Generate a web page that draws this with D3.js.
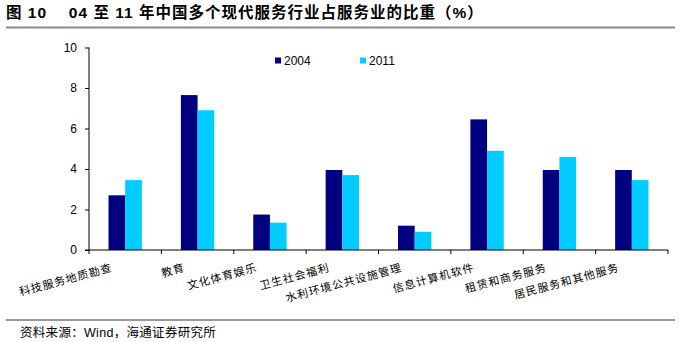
<!DOCTYPE html>
<html><head><meta charset="utf-8">
<script src="https://cdn.jsdelivr.net/npm/d3@7"></script>
<style>body{margin:0;background:#fff}svg{display:block}</style>
</head><body>
<script>
const categories = ["科技服务地质勘查","教育","文化体育娱乐","卫生社会福利","水利环境公共设施管理","信息计算机软件","租赁和商务服务","居民服务和其他服务"];
const seriesNames = ["2004","2011"];
const values2004 = [2.7, 7.65, 1.75, 3.95, 1.2, 6.45, 3.95, 3.95];
const values2011 = [3.45, 6.9, 1.35, 3.7, 0.9, 4.9, 4.6, 3.45];
const yTicks = [0,2,4,6,8,10];
const colors = ["#000080","#00CCFF"];
const title = "图 10　 04 至 11 年中国多个现代服务行业占服务业的比重（%）";
const source = "资料来源：Wind，海通证券研究所";

const W = 692, H = 342;
const svg = d3.select("body").append("svg").attr("width", W).attr("height", H);
const cjk = "'Liberation Sans', Arial, 'Noto Sans CJK SC', sans-serif";

svg.append("text").attr("x", 6).attr("y", 18).attr("font-family", cjk)
  .attr("font-size", 15.5).attr("font-weight", "bold").attr("letter-spacing", 1).attr("fill", "#000").text(title);
svg.append("line").attr("x1", 6).attr("x2", 675).attr("y1", 27.5).attr("y2", 27.5)
  .attr("stroke", "#888").attr("stroke-width", 2);
svg.append("line").attr("x1", 6).attr("x2", 675).attr("y1", 320).attr("y2", 320)
  .attr("stroke", "#777").attr("stroke-width", 1.5);
svg.append("text").attr("x", 20).attr("y", 337).attr("font-family", cjk)
  .attr("font-size", 12.5).attr("letter-spacing", 0.3).attr("fill", "#000").text(source);

const x = d3.scaleBand().domain(categories).range([89, 668]).paddingInner(0).paddingOuter(0);
const y = d3.scaleLinear().domain([0, 10]).range([250, 47.5]);
const xs = d3.scaleBand().domain(seriesNames).range([0, x.bandwidth()]).paddingInner(0).paddingOuter(1.17);
const data = categories.map((c, i) => ({c, v: [values2004[i], values2011[i]]}));

const g = svg.append("g");
g.selectAll("g.grp").data(data).join("g").attr("class","grp")
  .attr("transform", d => `translate(${x(d.c)},0)`)
  .selectAll("rect").data(d => d.v.map((v, j) => ({v, s: seriesNames[j], j})))
  .join("rect")
  .attr("x", d => xs(d.s))
  .attr("width", xs.bandwidth())
  .attr("y", d => y(d.v)).attr("height", d => y(0) - y(d.v))
  .attr("fill", d => colors[d.j]);

// y axis
const ya = svg.append("g").attr("transform", "translate(89,0)")
  .call(d3.axisLeft(y).tickValues(yTicks).tickSize(4).tickPadding(8).tickFormat(d3.format("d")));
ya.select(".domain").attr("stroke", "#000").attr("d", `M0,${y(10)}V${y(0)}`);
ya.selectAll(".tick line").attr("stroke", "#000");
ya.selectAll("text").attr("font-family", "'Liberation Sans', Arial, sans-serif").attr("font-size", 12).attr("fill", "#000");

// x axis
const xa = svg.append("g").attr("transform", `translate(0,${y(0)})`);
xa.append("line").attr("x1", 85).attr("x2", 668).attr("y1", 0).attr("y2", 0).attr("stroke", "#000");
const tickPos = categories.map(c => x(c)).concat([x(categories[categories.length-1]) + x.bandwidth()]);
xa.selectAll("line.t").data(tickPos).join("line").attr("class","t")
  .attr("x1", d => d).attr("x2", d => d).attr("y1", 0).attr("y2", 4).attr("stroke", "#000");
xa.selectAll("text.lab").data(categories).join("text").attr("class","lab")
  .attr("text-anchor", "end")
  .attr("transform", c => `translate(${x(c) + x.bandwidth()/2 - 12},${21}) rotate(-15)`)
  .attr("font-family", "'Noto Sans CJK SC', sans-serif").attr("font-size", 11)
  .attr("letter-spacing", 1)
  .attr("fill", "#000").text(c => c);

// legend
const lg = svg.append("g");
const legX = [275, 360];
seriesNames.forEach((s, i) => {
  lg.append("rect").attr("x", legX[i]).attr("y", 57.5).attr("width", 6).attr("height", 6).attr("fill", colors[i]);
  lg.append("text").attr("x", legX[i] + 9).attr("y", 64.5).attr("font-family", "'Liberation Sans', Arial, sans-serif")
    .attr("font-size", 12).attr("fill", "#000").text(s);
});
</script>
</body></html>
